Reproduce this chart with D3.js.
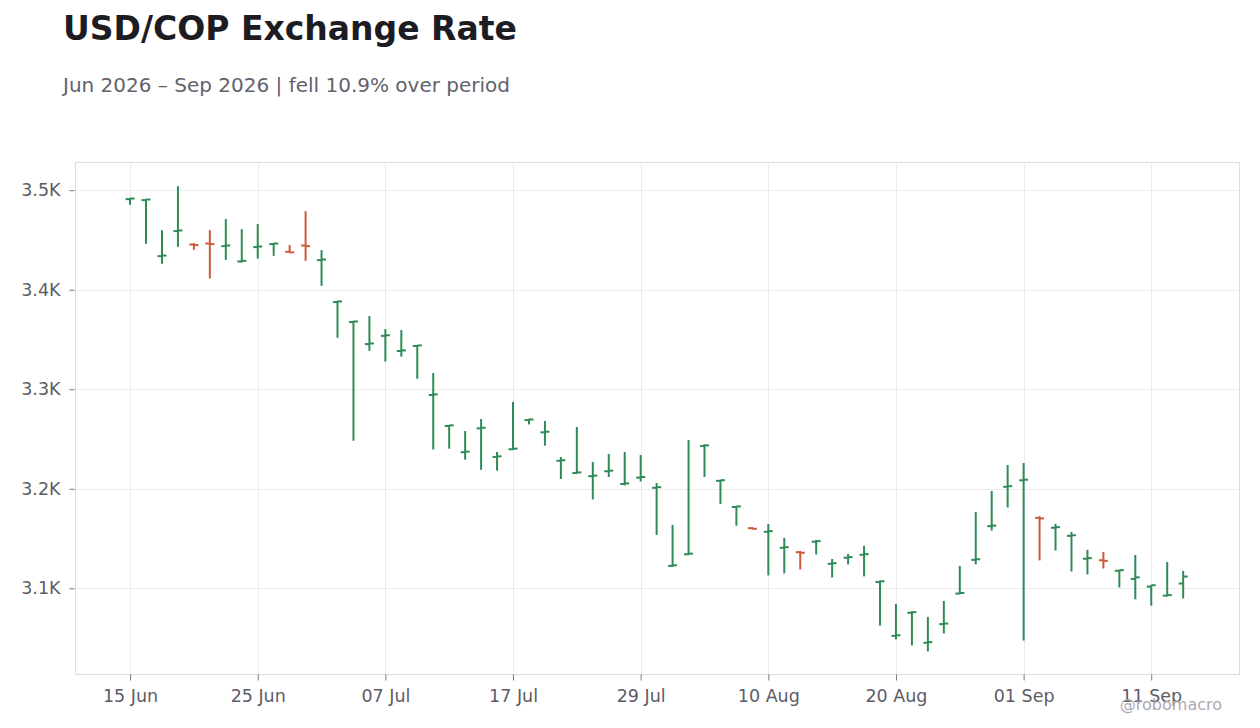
<!DOCTYPE html>
<html>
<head>
<meta charset="utf-8">
<script src="https://cdn.jsdelivr.net/npm/d3@7"></script>
<style>
  body { margin: 0; background: #fff; }
  svg { display: block; font-family: "DejaVu Sans", sans-serif; }
</style>
</head>
<body>
<svg id="chart" width="1260" height="728"></svg>
<script>
// business days, 15 Jun 2026 - 15 Sep 2026
const dates = [
  "2026-06-15","2026-06-16","2026-06-17","2026-06-18","2026-06-19","2026-06-22","2026-06-23","2026-06-24","2026-06-25","2026-06-26",
  "2026-06-29","2026-06-30","2026-07-01","2026-07-02","2026-07-03","2026-07-06","2026-07-07","2026-07-08","2026-07-09","2026-07-10",
  "2026-07-13","2026-07-14","2026-07-15","2026-07-16","2026-07-17","2026-07-20","2026-07-21","2026-07-22","2026-07-23","2026-07-24",
  "2026-07-27","2026-07-28","2026-07-29","2026-07-30","2026-07-31","2026-08-03","2026-08-04","2026-08-05","2026-08-06","2026-08-07",
  "2026-08-10","2026-08-11","2026-08-12","2026-08-13","2026-08-14","2026-08-17","2026-08-18","2026-08-19","2026-08-20","2026-08-21",
  "2026-08-24","2026-08-25","2026-08-26","2026-08-27","2026-08-28","2026-08-31","2026-09-01","2026-09-02","2026-09-03","2026-09-04",
  "2026-09-07","2026-09-08","2026-09-09","2026-09-10","2026-09-11","2026-09-14","2026-09-15"
]

const openVals = [
  3491.0,3490.0,3433.7,3458.9,3445.4,3446.4,3443.8,3428.4,3442.8,3445.8,
  3438.1,3444.4,3429.7,3387.6,3367.5,3345.4,3353.6,3338.4,3343.4,3294.2,
  3263.1,3236.7,3260.7,3232.0,3239.7,3269.0,3256.7,3228.1,3215.8,3212.6,
  3217.6,3204.8,3211.2,3201.0,3122.5,3134.2,3243.0,3208.0,3181.7,3160.4,
  3156.8,3140.7,3136.3,3146.8,3124.6,3130.7,3133.7,3106.4,3052.2,3075.4,
  3045.3,3064.0,3094.7,3128.6,3162.4,3202.0,3208.5,3170.8,3160.8,3152.7,
  3129.7,3128.2,3117.6,3109.4,3101.7,3092.6,3104.8
]
const highVals = [
  3492.3,3491.0,3459.8,3504.0,3446.8,3459.8,3470.9,3460.8,3465.9,3446.8,
  3444.8,3478.9,3439.8,3388.9,3368.8,3373.5,3360.4,3359.4,3344.4,3316.3,
  3264.1,3258.0,3270.1,3237.0,3287.2,3270.4,3268.1,3231.9,3262.0,3226.9,
  3234.9,3237.0,3233.9,3205.8,3163.7,3249.0,3244.7,3208.8,3182.7,3161.5,
  3164.7,3150.6,3137.6,3148.6,3129.5,3134.5,3142.6,3107.7,3084.3,3077.0,
  3071.3,3087.3,3122.5,3176.7,3197.8,3223.9,3225.9,3172.4,3164.7,3156.6,
  3138.6,3136.6,3118.5,3133.5,3103.1,3126.5,3117.5
]
const lowVals = [
  3485.2,3446.1,3426.0,3443.1,3440.1,3411.2,3430.0,3427.4,3431.2,3434.0,
  3437.2,3429.0,3403.9,3351.7,3248.3,3338.7,3327.8,3332.7,3310.5,3239.4,
  3240.3,3229.2,3219.1,3218.2,3239.0,3264.6,3243.3,3209.8,3215.1,3189.3,
  3211.8,3203.3,3207.3,3153.6,3121.4,3133.3,3211.8,3184.7,3162.9,3159.1,
  3112.9,3114.9,3118.9,3134.0,3110.9,3124.0,3112.0,3062.6,3048.7,3042.5,
  3036.6,3054.6,3094.0,3124.0,3158.1,3181.2,3047.5,3128.0,3138.0,3116.9,
  3113.9,3119.9,3100.9,3088.9,3082.6,3091.9,3089.7
]
const closeVals = [
  3491.6,3490.6,3434.3,3459.5,3444.8,3445.8,3444.4,3429.0,3443.4,3446.4,
  3437.5,3443.8,3430.3,3388.2,3368.1,3346.0,3354.2,3339.0,3344.0,3294.8,
  3263.7,3237.3,3261.3,3232.6,3240.3,3269.6,3257.3,3228.7,3216.4,3213.2,
  3218.2,3205.4,3211.8,3201.6,3123.1,3134.8,3243.6,3208.6,3182.3,3159.8,
  3157.4,3141.3,3135.7,3147.4,3125.2,3131.3,3134.3,3107.0,3052.8,3076.0,
  3045.9,3064.6,3095.3,3129.2,3163.0,3202.6,3209.1,3170.2,3161.4,3153.3,
  3130.3,3127.6,3118.2,3111.0,3103.1,3093.2,3111.8
]

const yTicks = [3100, 3200, 3300, 3400, 3500]
const xTickDates = ["2026-06-15","2026-06-25","2026-07-07","2026-07-17","2026-07-29","2026-08-10","2026-08-20","2026-09-01","2026-09-11"]

const upColor = "#2e8b57"
const downColor = "#cc5a3c"

const svg = d3.select("#chart")
const plotLeft = 75.5, plotRight = 1239.5, plotTop = 162.5, plotBottom = 674.5

const parse = d3.timeParse("%Y-%m-%d")
const fmt = d3.timeFormat("%d %b")

let bars = dates.map((d, i) => ({
  i: i,
  date: d,
  open: openVals[i],
  high: highVals[i],
  low: lowVals[i],
  close: closeVals[i]
}))

// weekend gaps removed: x runs over trading day index
let x = d3.scaleLinear().domain([-3.42, 69.53]).range([plotLeft, plotRight])
let y = d3.scaleLinear().domain([3013.4, 3527.8]).range([plotBottom, plotTop])

// title
svg.append("text")
  .attr("x", 63).attr("y", 40)
  .attr("font-size", 33).attr("font-weight", "bold")
  .attr("fill", "#1c1c22")
  .text("USD/COP Exchange Rate")

svg.append("text")
  .attr("x", 63).attr("y", 92)
  .attr("font-size", 20)
  .attr("fill", "#62626d")
  .text("Jun 2026 – Sep 2026 | fell 10.9% over period")

// grid
let grid = svg.append("g")
grid.selectAll("line.gy")
  .data(yTicks)
  .join("line")
  .attr("class", "gy")
  .attr("x1", plotLeft).attr("x2", plotRight)
  .attr("y1", d => Math.round(y(d)) + 0.5).attr("y2", d => Math.round(y(d)) + 0.5)
  .attr("stroke", "#ececec")

let xTickIdx = xTickDates.map(d => dates.indexOf(d))
grid.selectAll("line.gx")
  .data(xTickIdx)
  .join("line")
  .attr("class", "gx")
  .attr("y1", plotTop).attr("y2", plotBottom)
  .attr("x1", d => Math.round(x(d)) + 0.5).attr("x2", d => Math.round(x(d)) + 0.5)
  .attr("stroke", "#ececec")

// frame
svg.append("rect")
  .attr("x", plotLeft).attr("y", plotTop)
  .attr("width", plotRight - plotLeft).attr("height", plotBottom - plotTop)
  .attr("fill", "none")
  .attr("stroke", "#dcdcdc")

// axes
let yAxis = d3.axisLeft(y)
  .tickValues(yTicks)
  .tickSize(5)
  .tickPadding(9)
  .tickFormat(d => (d / 1000).toFixed(1) + "K")

let yg = svg.append("g")
  .attr("transform", `translate(${plotLeft - 1},0)`)
  .call(yAxis)
yg.select(".domain").remove()
yg.selectAll("line").attr("stroke", "#777")
yg.selectAll("text").attr("font-size", 17.5).attr("fill", "#5c5c66").attr("font-family", "DejaVu Sans")

let xAxis = d3.axisBottom(x)
  .tickValues(xTickIdx)
  .tickSize(6)
  .tickPadding(9)
  .tickFormat(i => fmt(parse(dates[i])))

let xg = svg.append("g")
  .attr("transform", `translate(0,${plotBottom})`)
  .call(xAxis)
xg.select(".domain").remove()
xg.selectAll("line").attr("stroke", "#777")
xg.selectAll("text").attr("font-size", 17.5).attr("fill", "#5c5c66").attr("font-family", "DejaVu Sans")

// ohlc bars
let colorOf = d => d.close >= d.open ? upColor : downColor
let barG = svg.append("g")
  .selectAll("g")
  .data(bars)
  .join("g")

barG.append("line")
  .attr("x1", d => x(d.i)).attr("x2", d => x(d.i))
  .attr("y1", d => y(d.high)).attr("y2", d => y(d.low))
  .attr("stroke", colorOf)
  .attr("stroke-width", 2)

barG.append("line")
  .attr("x1", d => x(d.i) - 4.5).attr("x2", d => x(d.i))
  .attr("y1", d => y(d.open)).attr("y2", d => y(d.open))
  .attr("stroke", colorOf)
  .attr("stroke-width", 2)

barG.append("line")
  .attr("x1", d => x(d.i)).attr("x2", d => x(d.i) + 4.5)
  .attr("y1", d => y(d.close)).attr("y2", d => y(d.close))
  .attr("stroke", colorOf)
  .attr("stroke-width", 2)

// watermark
svg.append("text")
  .attr("x", 1222).attr("y", 709.5)
  .attr("text-anchor", "end")
  .attr("font-size", 16)
  .attr("fill", "#ababb2")
  .text("@robomacro")
</script>
</body>
</html>
